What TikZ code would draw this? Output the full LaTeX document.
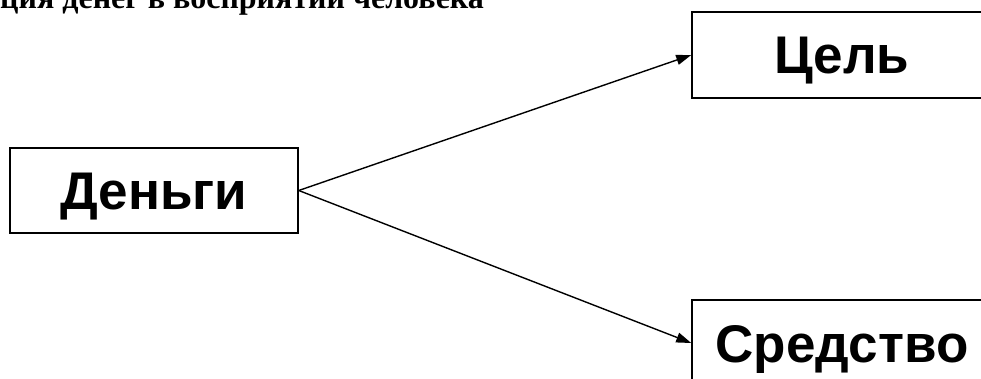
\documentclass[tikz,border=0pt]{standalone}
\usepackage{fontspec}
\setmainfont{Liberation Serif}
\newfontfamily\boxfont{Liberation Sans}
\usetikzlibrary{arrows.meta, positioning}

\begin{document}
\begin{tikzpicture}[x=1pt, y=-1pt]
    \useasboundingbox (0,0) rectangle (981,379);
    \clip (0,0) rectangle (981,379);

    % Title (cut off at the top)
    \node[anchor=base west, inner sep=0pt, font=\fontsize{32}{36}\selectfont\bfseries] (title) at (0,8.5) {ция денег в восприятии человека};

    % Boxes
    \node[draw, line width=1.5pt, minimum width=288pt, minimum height=85pt, text height=38pt, text depth=0pt, font=\boxfont\fontsize{53}{60}\selectfont\bfseries] (money) at (154,190.5) {Деньги};
    \node[draw, line width=1.5pt, minimum width=300pt, minimum height=86pt, text height=38pt, text depth=0pt, font=\boxfont\fontsize{53}{60}\selectfont\bfseries] (goal) at (842,55) {Цель};
    \node[draw, line width=1.5pt, minimum width=300pt, minimum height=86pt, text height=38pt, text depth=0pt, font=\boxfont\fontsize{53}{60}\selectfont\bfseries] (means) at (842,343) {Средство};

    % Links
    \draw[-{Triangle[length=15pt, width=10pt]}, line width=1.4pt] (money.east) -- (goal.west);
    \draw[-{Triangle[length=15pt, width=10pt]}, line width=1.4pt] (money.east) -- (means.west);
\end{tikzpicture}
\end{document}
